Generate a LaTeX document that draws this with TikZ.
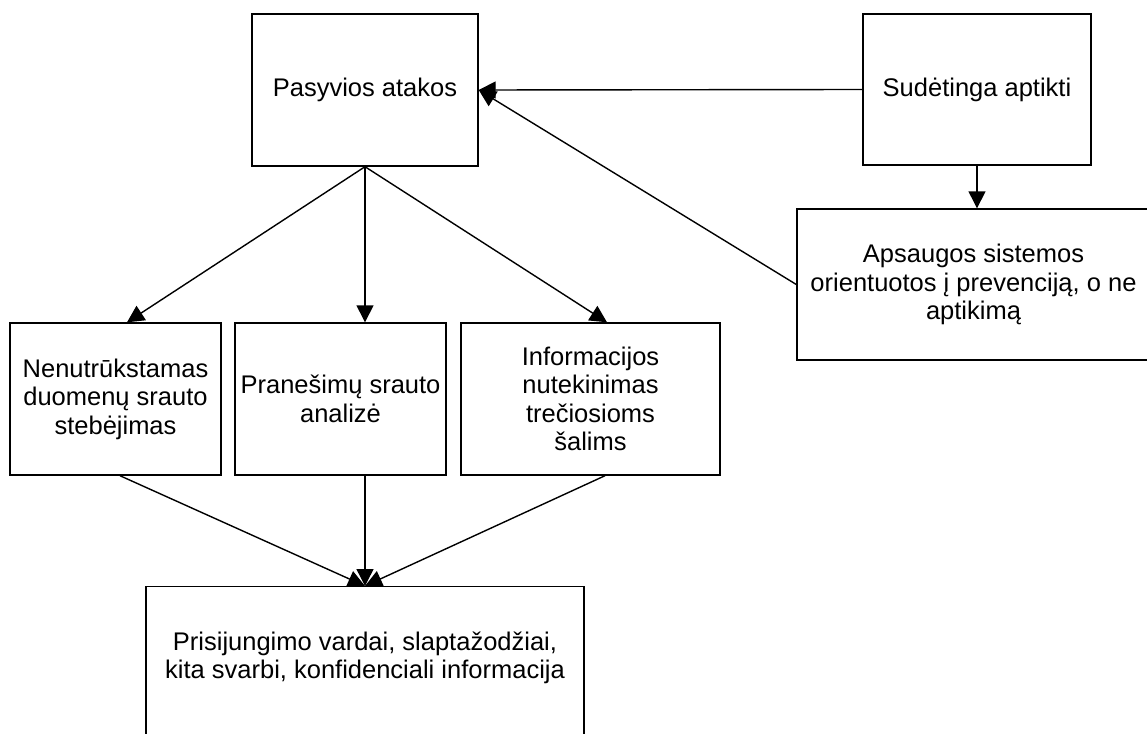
\documentclass[tikz,border=0pt]{standalone}
\usepackage{fontspec}
\setmainfont{Liberation Sans}
\usetikzlibrary{arrows.meta}
\tikzset{
  box/.style={draw, line width=1.4pt, rectangle, align=center, inner sep=0pt,
    font=\fontsize{25.5}{28.5}\selectfont},
  txt/.style={align=center, inner sep=0pt, font=\fontsize{25.5}{28.5}\selectfont},
  arr/.style={line width=1.4pt, -{Triangle[length=17pt,width=17pt]}},
  ln/.style={line width=1.4pt}
}
\begin{document}
\begin{tikzpicture}[x=1pt,y=-1pt]
\useasboundingbox (0,0) rectangle (1147,733);
\clip (0,0) rectangle (1147,733);
\fill[white] (0,0) rectangle (1147,733);

% top row
\node[box, minimum width=226, minimum height=152] (pas) at (365,90) {Pasyvios atakos};
\node[box, minimum width=228, minimum height=151] (sud) at (977,89.5) {Sudėtinga aptikti};
\node[box, minimum width=353, minimum height=151] (aps) at (973.5,284.5)
  {Apsaugos sistemos\\orientuotos į prevenciją, o ne\\aptikimą};

% middle row
\node[box, minimum width=211, minimum height=152] (nenu) at (115.5,399)
  {Nenutrūkstamas\\duomenų srauto\\stebėjimas};
\node[box, minimum width=211, minimum height=152] (pran) at (340.5,399)
  {Pranešimų srauto\\analizė};
\node[box, minimum width=259, minimum height=152] (info) at (590.5,399)
  {Informacijos\\nutekinimas\\trečiosioms\\šalims};

% bottom box (runs past the lower edge)
\node[box, anchor=north, minimum width=438, minimum height=170] (prisi) at (365,586) {};
\node[txt] (prisitxt) at (365,658)
  {Prisijungimo vardai, slaptažodžiai,\\kita svarbi, konfidenciali informacija};

% connectors
\draw[arr] (sud.west) -- (pas.east);
\draw[arr] (aps.west) -- (pas.east);
\draw[arr] (sud.south) -- (sud.south |- aps.north);

\draw[arr] (pas.south) -- ([xshift=11.5pt]nenu.north);
\draw[arr] (pas.south) -- (pas.south |- pran.north);
\draw[arr] (pas.south) -- ([xshift=16.5pt]info.north);

\draw[arr] ([xshift=4.5pt]nenu.south) -- (prisi.north);
\draw[arr] (prisi.north |- pran.south) -- (prisi.north);
\draw[arr] ([xshift=14.5pt]info.south) -- (prisi.north);
\end{tikzpicture}
\end{document}
